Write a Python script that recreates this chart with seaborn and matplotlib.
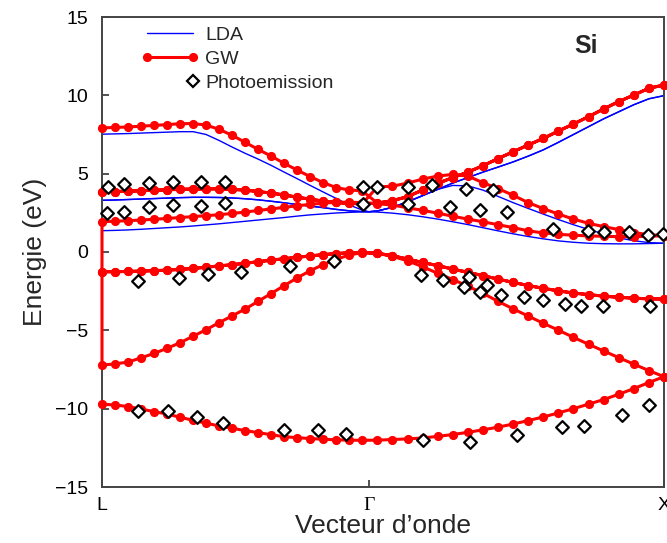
import numpy as np
import pandas as pd
import matplotlib
matplotlib.use("Agg")
import matplotlib.pyplot as plt
import seaborn as sns
from matplotlib.lines import Line2D
from matplotlib.legend_handler import HandlerLine2D

sns.set_theme(style="ticks")
plt.rcParams['font.family'] = ['Liberation Sans', 'DejaVu Sans']

# ---------------- data ----------------
# k-path positions (L -> Gamma -> X, arbitrary units)
K_L, K_G, K_X = 0.0, 0.475, 1.0
tick_pos = [K_L, K_G, K_X]
tick_labels = ['L', '\u0393', 'X']
k_lg = np.linspace(0.0, 0.463, 21)     # GW k-points along L-Gamma
k_gx = np.linspace(0.490, 1.0, 20)     # GW k-points along Gamma-X

# GW bands (eV): values along L-Gamma and along Gamma-X
gw_v1_lg = [-9.72, -9.76, -9.87, -10.02, -10.19, -10.34, -10.55, -10.74, -10.93, -11.10, -11.25,
            -11.40, -11.53, -11.66, -11.79, -11.85, -11.91, -11.95, -11.99, -12.01, -12.02]
gw_v1_gx = [-12.01, -11.97, -11.93, -11.87, -11.77, -11.65, -11.51, -11.35, -11.18, -10.98,
            -10.76, -10.53, -10.27, -10.00, -9.71, -9.42, -9.08, -8.72, -8.33, -7.96]
gw_v2_lg = [-7.21, -7.15, -7.02, -6.76, -6.47, -6.15, -5.79, -5.38, -4.96, -4.51, -4.08,
            -3.64, -3.15, -2.65, -2.15, -1.65, -1.20, -0.80, -0.47, -0.19, -0.04]
gw_v2_gx = [-0.08, -0.28, -0.56, -0.94, -1.36, -1.76, -2.18, -2.64, -3.15, -3.63,
            -4.09, -4.55, -4.99, -5.45, -5.89, -6.32, -6.74, -7.16, -7.57, -7.96]
gw_v3_lg = [-1.26, -1.26, -1.24, -1.22, -1.19, -1.16, -1.11, -1.05, -0.97, -0.89, -0.81,
            -0.72, -0.62, -0.52, -0.43, -0.34, -0.25, -0.17, -0.10, -0.05, -0.02]
gw_v3_gx = [-0.08, -0.24, -0.45, -0.67, -0.87, -1.09, -1.30, -1.51, -1.73, -1.94,
            -2.14, -2.32, -2.48, -2.62, -2.72, -2.82, -2.89, -2.95, -2.99, -3.00]
gw_c1_lg = [1.94, 1.96, 2.00, 2.04, 2.09, 2.14, 2.20, 2.26, 2.32, 2.38, 2.46,
            2.55, 2.65, 2.75, 2.85, 2.95, 3.04, 3.12, 3.17, 3.18, 3.15]
gw_c1_gx = [3.08, 3.00, 2.82, 2.66, 2.48, 2.28, 2.10, 1.93, 1.74, 1.56,
            1.35, 1.22, 1.13, 1.07, 1.03, 1.00, 0.98, 0.98, 1.00, 1.04]
gw_c2_lg = [3.85, 3.86, 3.88, 3.91, 3.94, 3.97, 4.00, 4.02, 4.03, 4.03, 4.00,
            3.95, 3.86, 3.76, 3.64, 3.50, 3.37, 3.25, 3.16, 3.10, 3.08]
gw_c2_gx = [4.15, 4.20, 4.40, 4.65, 4.85, 4.95, 4.85, 4.42, 4.05, 3.62,
            3.15, 2.77, 2.42, 2.10, 1.83, 1.62, 1.43, 1.24, 1.10, 1.04]
gw_c3_gx = [3.12, 3.28, 3.53, 3.96, 4.38, 4.75, 5.10, 5.51, 5.96, 6.40,
            6.83, 7.25, 7.72, 8.17, 8.64, 9.13, 9.60, 10.02, 10.45, 10.66]
gw_c4_lg = [7.92, 7.95, 7.98, 8.03, 8.08, 8.13, 8.19, 8.20, 8.10, 7.83, 7.45,
            7.00, 6.55, 6.12, 5.66, 5.23, 4.81, 4.43, 4.11, 3.96, 3.90]

# LDA conduction bands (eV): L-Gamma, Gamma, Gamma-X
lda_gamma = 2.57
lda_c1_lg = [1.36, 1.38, 1.41, 1.45, 1.50, 1.55, 1.60, 1.66, 1.73, 1.80, 1.88,
             1.96, 2.04, 2.12, 2.20, 2.29, 2.37, 2.43, 2.49, 2.53, 2.56]
lda_c1_gx = [2.55, 2.48, 2.38, 2.25, 2.10, 1.93, 1.75, 1.55, 1.35, 1.16,
             0.99, 0.84, 0.71, 0.62, 0.56, 0.53, 0.52, 0.52, 0.54, 0.56]
lda_c2_lg = [3.30, 3.32, 3.35, 3.38, 3.41, 3.44, 3.47, 3.49, 3.49, 3.48, 3.45,
             3.40, 3.33, 3.24, 3.14, 3.03, 2.93, 2.83, 2.72, 2.63, 2.58]
lda_c2_gx = [2.62, 2.85, 3.20, 3.60, 4.00, 4.25, 4.22, 3.95, 3.55, 3.15,
             2.78, 2.42, 2.07, 1.74, 1.44, 1.15, 0.90, 0.72, 0.60, 0.56]
lda_c3_gx = [2.62, 2.85, 3.20, 3.60, 4.00, 4.40, 4.75, 5.10, 5.42, 5.75,
             6.12, 6.52, 7.00, 7.50, 8.00, 8.50, 8.95, 9.40, 9.78, 9.98]
lda_c4_lg = [7.52, 7.54, 7.56, 7.59, 7.62, 7.65, 7.68, 7.68, 7.50, 7.12, 6.70,
             6.30, 5.93, 5.53, 5.10, 4.68, 4.25, 3.83, 3.42, 3.00, 2.68]

# Photoemission data (k, eV)
ph_k = [0.0112, 0.0383, 0.0845, 0.1272, 0.1762, 0.2189,
        0.0089, 0.0383, 0.0845, 0.1272, 0.1762, 0.2189,
        0.4649, 0.4899, 0.4649, 0.5450, 0.5450, 0.5866, 0.6192, 0.6477, 0.6726, 0.6963,
        0.7201, 0.8030, 0.8648, 0.8941, 0.9372, 0.9720, 0.9988,
        0.0646, 0.1375, 0.1891, 0.2468, 0.3345, 0.4133,
        0.5671, 0.6073, 0.6447, 0.6536, 0.6726, 0.6845, 0.7100, 0.7509, 0.7842,
        0.8238, 0.8523, 0.8920, 0.9751,
        0.0646, 0.1180, 0.1685, 0.2148, 0.3244, 0.3849, 0.4342,
        0.5717, 0.6548, 0.7379, 0.8190, 0.8582, 0.9247, 0.9738]
ph_e = [4.15, 4.32, 4.42, 4.48, 4.48, 4.48,
        2.50, 2.56, 2.85, 3.02, 2.91, 3.10,
        4.12, 4.12, 3.05, 4.12, 3.08, 4.27, 2.89, 4.00, 2.68, 3.93,
        2.57, 1.48, 1.35, 1.25, 1.30, 1.08, 1.12,
        -1.85, -1.64, -1.41, -1.26, -0.88, -0.57,
        -1.47, -1.79, -2.26, -1.62, -2.57, -2.11, -2.74, -2.85, -3.06,
        -3.34, -3.45, -3.45, -3.45,
        -10.15, -10.15, -10.51, -10.90, -11.33, -11.33, -11.64,
        -12.00, -12.10, -11.68, -11.19, -11.10, -10.40, -9.77]

# ---------------- tables ----------------
k_path = np.concatenate([k_lg, k_gx])
gw_bands = [gw_v1_lg + gw_v1_gx, gw_v2_lg + gw_v2_gx, gw_v3_lg + gw_v3_gx,
            gw_v3_lg + gw_v3_gx, gw_c1_lg + gw_c1_gx, gw_c2_lg + gw_c2_gx,
            gw_c2_lg + gw_c3_gx, gw_c4_lg + gw_c3_gx]
rows = []
for b, vals in enumerate(gw_bands):
    ks, es = list(k_path), list(vals)
    if b % 2 == 1:          # serpentine order: one continuous trace
        ks, es = ks[::-1], es[::-1]
    rows += list(zip(ks, es))
gw_df = pd.DataFrame(rows, columns=['k', 'E'])

k_lda = np.concatenate([k_lg, [K_G], k_gx])
lda_rows = []
for b, vals in enumerate([lda_c1_lg + [lda_gamma] + lda_c1_gx,
                          lda_c2_lg + [lda_gamma] + lda_c2_gx,
                          lda_c2_lg + [lda_gamma] + lda_c3_gx,
                          lda_c4_lg + [lda_gamma] + lda_c3_gx]):
    lda_rows += [(b, k, e) for k, e in zip(k_lda, vals)]
for b, vals in enumerate(gw_bands[:4]):
    lda_rows += [(10 + b, k, e) for k, e in zip(k_path, vals)]
lda_df = pd.DataFrame(lda_rows, columns=['band', 'k', 'E'])

ph_df = pd.DataFrame({'k': ph_k, 'E': ph_e})


class RightMarkerHandler(HandlerLine2D):
    """Legend handler that draws a single marker at the right end of the handle."""
    def create_artists(self, legend, orig_handle, xdescent, ydescent, width,
                       height, fontsize, trans):
        arts = super().create_artists(legend, orig_handle, xdescent, ydescent,
                                      width, height, fontsize, trans)
        for a in arts:
            xd, yd = a.get_xdata(), a.get_ydata()
            a.set_markevery(None)
            a.set_data([xd[-1]], [yd[-1]])
        return arts


# ---------------- figure ----------------
fig = plt.figure(figsize=(6.67, 5.43), dpi=100)
ax = fig.add_axes([102/667, 1 - 487/543, 562/667, 470/543])

sns.lineplot(data=lda_df, x='k', y='E', units='band', estimator=None, sort=False,
             color='#0000ff', linewidth=1.0, ax=ax, zorder=2, legend=False)
sns.lineplot(data=gw_df, x='k', y='E', estimator=None, sort=False, color='#ff0000',
             linewidth=2.2, marker='o', markersize=6.6, markeredgewidth=0,
             ax=ax, zorder=3, legend=False, clip_on=False)
sns.scatterplot(data=ph_df, x='k', y='E', marker='D', s=42, facecolor='white',
                edgecolor='black', linewidth=1.6, ax=ax, zorder=4, legend=False,
                clip_on=False)

ax.set_xlim(K_L, K_X)
ax.set_ylim(-15, 15)
ax.set_xticks(tick_pos)
ax.set_xticklabels(tick_labels)
ax.set_yticks([-15, -10, -5, 0, 5, 10, 15])
ax.get_xticklabels()[1].set_fontfamily('Liberation Serif')
ax.tick_params(axis='both', direction='in', length=5, width=1.2, colors='#333333',
               labelcolor='black', labelsize=14)
ax.tick_params(axis='y', pad=10)
ax.tick_params(axis='x', pad=7)
for sp in ax.spines.values():
    sp.set_color('#444444')
    sp.set_linewidth(1.4)

ax.set_xlabel('Vecteur d\u2019onde', fontsize=19, labelpad=0)
ax.set_ylabel('Energie (eV)', fontsize=19, labelpad=6)
ax.text(0.861, 0.938, 'Si', transform=ax.transAxes, fontsize=18, fontweight='bold',
        ha='center', va='center')

h_lda = Line2D([], [], color='#0000ff', lw=1.0)
h_gw = Line2D([], [], color='#ff0000', lw=2.2, marker='o', ms=6.6, mew=0)
h_ph = Line2D([], [], ls='none', marker='D', ms=6.4, mfc='white', mec='black', mew=1.6)
ax.legend([h_lda, h_gw, h_ph], ['LDA', 'GW', 'Photoemission'], loc='upper left',
          bbox_to_anchor=(0.069, 0.981), frameon=False, fontsize=14, numpoints=2,
          handlelength=3.0, handletextpad=0.3, labelspacing=0.33, borderpad=0,
          borderaxespad=0, handler_map={h_ph: RightMarkerHandler(numpoints=2)})

fig.savefig('out.png', dpi=100)
